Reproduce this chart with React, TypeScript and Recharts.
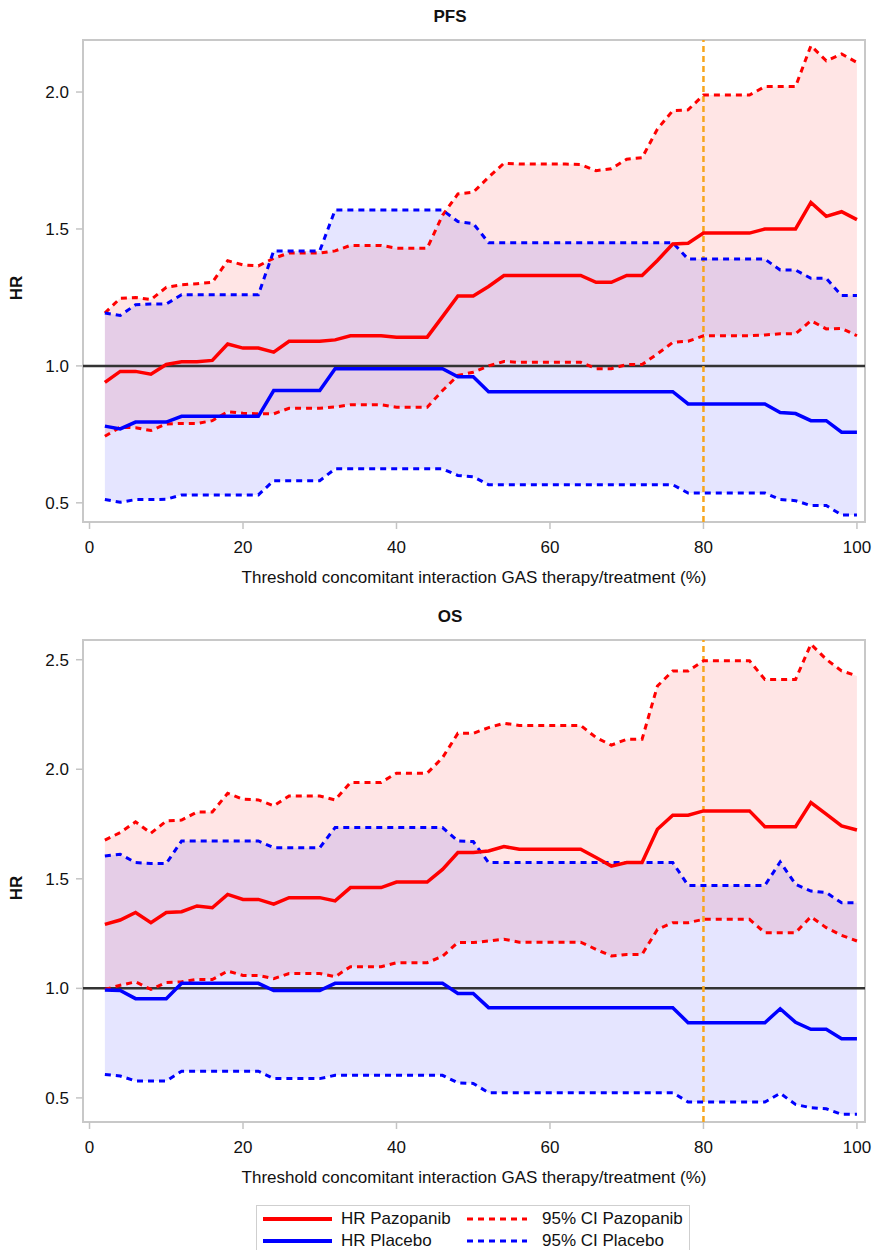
import React from 'react'
import {
  ComposedChart,
  Line,
  Area,
  XAxis,
  YAxis,
  ReferenceLine,
  ReferenceArea,
} from 'recharts'

// thresholds (%)
const thresholds = [
  2, 4, 6, 8, 10, 12, 14, 16, 18, 20, 22, 24, 26, 28, 30, 32, 34, 36, 38, 40,
  42, 44, 46, 48, 50, 52, 54, 56, 58, 60, 62, 64, 66, 68, 70, 72, 74, 76, 78, 80,
  82, 84, 86, 88, 90, 92, 94, 96, 98, 100,
]

const xTicks = [0, 20, 40, 60, 80, 100]
const pfsTicks = [0.5, 1.0, 1.5, 2.0]
const osTicks = [0.5, 1.0, 1.5, 2.0, 2.5]

// PFS
const pfsHrPazo = [
  0.94, 0.98, 0.98, 0.97, 1.005, 1.015, 1.015, 1.02, 1.08, 1.065, 1.065, 1.05,
  1.09, 1.09, 1.09, 1.095, 1.11, 1.11, 1.11, 1.105, 1.105, 1.105, 1.18, 1.255,
  1.255, 1.29, 1.33, 1.33, 1.33, 1.33, 1.33, 1.33, 1.305, 1.305, 1.33, 1.33,
  1.385, 1.445, 1.448, 1.485, 1.485, 1.485, 1.485, 1.5, 1.5, 1.5, 1.597, 1.546,
  1.563, 1.534,
]
const pfsHiPazo = [
  1.193, 1.247, 1.25, 1.242, 1.287, 1.296, 1.3, 1.305, 1.384, 1.369, 1.365,
  1.393, 1.412, 1.412, 1.412, 1.42, 1.44, 1.44, 1.44, 1.43, 1.43, 1.43, 1.55,
  1.628, 1.634, 1.689, 1.74, 1.737, 1.737, 1.737, 1.737, 1.735, 1.713, 1.72,
  1.755, 1.76, 1.865, 1.932, 1.935, 1.989, 1.989, 1.989, 1.989, 2.02, 2.02, 2.02,
  2.169, 2.114, 2.139, 2.108,
]
const pfsLoPazo = [
  0.743, 0.776, 0.774, 0.764, 0.788, 0.79, 0.79, 0.8, 0.833, 0.827, 0.825, 0.825,
  0.845, 0.845, 0.845, 0.85, 0.858, 0.858, 0.858, 0.849, 0.849, 0.849, 0.91,
  0.965, 0.977, 1.0, 1.016, 1.013, 1.013, 1.013, 1.013, 1.013, 0.99, 0.99, 1.005,
  1.005, 1.044, 1.086, 1.09, 1.11, 1.11, 1.11, 1.11, 1.113, 1.117, 1.117, 1.165,
  1.135, 1.137, 1.11,
]
const pfsHrPlac = [
  0.78, 0.77, 0.795, 0.795, 0.795, 0.816, 0.816, 0.816, 0.816, 0.816, 0.816, 0.91,
  0.91, 0.91, 0.91, 0.99, 0.99, 0.99, 0.99, 0.99, 0.99, 0.99, 0.99, 0.96, 0.96,
  0.906, 0.906, 0.906, 0.906, 0.906, 0.906, 0.906, 0.906, 0.906, 0.906, 0.906,
  0.906, 0.906, 0.861, 0.861, 0.861, 0.861, 0.861, 0.861, 0.83, 0.826, 0.8, 0.8,
  0.758, 0.758,
]
const pfsHiPlac = [
  1.193, 1.184, 1.223, 1.226, 1.226, 1.26, 1.26, 1.26, 1.26, 1.26, 1.26, 1.42,
  1.42, 1.42, 1.42, 1.569, 1.569, 1.569, 1.569, 1.569, 1.569, 1.569, 1.569,
  1.527, 1.52, 1.45, 1.45, 1.45, 1.45, 1.45, 1.45, 1.45, 1.45, 1.45, 1.45, 1.45,
  1.45, 1.45, 1.39, 1.39, 1.39, 1.39, 1.39, 1.39, 1.35, 1.35, 1.32, 1.32, 1.257,
  1.257,
]
const pfsLoPlac = [
  0.512, 0.502, 0.512, 0.512, 0.513, 0.529, 0.529, 0.529, 0.529, 0.529, 0.529,
  0.581, 0.581, 0.581, 0.581, 0.624, 0.624, 0.624, 0.624, 0.624, 0.624, 0.624,
  0.624, 0.6, 0.595, 0.566, 0.566, 0.566, 0.566, 0.566, 0.566, 0.566, 0.566,
  0.566, 0.566, 0.566, 0.566, 0.566, 0.536, 0.536, 0.536, 0.536, 0.536, 0.536,
  0.512, 0.508, 0.49, 0.49, 0.456, 0.456,
]

// OS
const osHrPazo = [
  1.292, 1.312, 1.346, 1.3, 1.346, 1.35, 1.376, 1.368, 1.429, 1.406, 1.406, 1.384,
  1.414, 1.414, 1.414, 1.399, 1.46, 1.46, 1.46, 1.485, 1.485, 1.485, 1.543, 1.62,
  1.62, 1.627, 1.647, 1.635, 1.635, 1.635, 1.635, 1.635, 1.597, 1.558, 1.574,
  1.574, 1.726, 1.79, 1.79, 1.81, 1.81, 1.81, 1.81, 1.738, 1.738, 1.738, 1.848,
  1.795, 1.741, 1.723,
]
const osHiPazo = [
  1.677, 1.711, 1.76, 1.708, 1.764, 1.768, 1.805, 1.805, 1.89, 1.863, 1.86, 1.833,
  1.878, 1.878, 1.878, 1.86, 1.939, 1.94, 1.94, 1.982, 1.982, 1.982, 2.053, 2.164,
  2.164, 2.19, 2.21, 2.2, 2.2, 2.2, 2.2, 2.2, 2.145, 2.11, 2.137, 2.137, 2.38,
  2.449, 2.449, 2.495, 2.495, 2.495, 2.495, 2.41, 2.41, 2.41, 2.571, 2.502, 2.449,
  2.426,
]
const osLoPazo = [
  0.995, 1.014, 1.03, 0.995, 1.027, 1.03, 1.041, 1.04, 1.079, 1.059, 1.059, 1.044,
  1.068, 1.068, 1.068, 1.053, 1.099, 1.099, 1.099, 1.117, 1.117, 1.117, 1.147,
  1.209, 1.209, 1.216, 1.224, 1.211, 1.211, 1.211, 1.211, 1.211, 1.178, 1.148,
  1.155, 1.155, 1.269, 1.3, 1.3, 1.315, 1.315, 1.315, 1.315, 1.254, 1.254, 1.254,
  1.327, 1.277, 1.242, 1.216,
]
const osHrPlac = [
  0.992, 0.99, 0.953, 0.953, 0.953, 1.023, 1.023, 1.023, 1.023, 1.023, 1.023,
  0.99, 0.99, 0.99, 0.99, 1.023, 1.023, 1.023, 1.023, 1.023, 1.023, 1.023, 1.023,
  0.977, 0.977, 0.912, 0.912, 0.912, 0.912, 0.912, 0.912, 0.912, 0.912, 0.912,
  0.912, 0.912, 0.912, 0.912, 0.843, 0.843, 0.843, 0.843, 0.843, 0.843, 0.907,
  0.845, 0.813, 0.813, 0.77, 0.77,
]
const osHiPlac = [
  1.604, 1.612, 1.574, 1.57, 1.57, 1.673, 1.673, 1.673, 1.673, 1.673, 1.673,
  1.642, 1.642, 1.642, 1.642, 1.734, 1.734, 1.734, 1.734, 1.734, 1.734, 1.734,
  1.734, 1.673, 1.67, 1.574, 1.574, 1.574, 1.574, 1.574, 1.574, 1.574, 1.574,
  1.574, 1.574, 1.574, 1.574, 1.574, 1.47, 1.47, 1.47, 1.47, 1.47, 1.47, 1.577,
  1.475, 1.444, 1.437, 1.391, 1.391,
]
const osLoPlac = [
  0.607, 0.6, 0.577, 0.577, 0.577, 0.622, 0.622, 0.622, 0.622, 0.622, 0.622,
  0.588, 0.588, 0.588, 0.588, 0.603, 0.603, 0.603, 0.603, 0.603, 0.603, 0.603,
  0.603, 0.569, 0.566, 0.524, 0.524, 0.524, 0.524, 0.524, 0.524, 0.524, 0.524,
  0.524, 0.524, 0.524, 0.524, 0.524, 0.481, 0.481, 0.481, 0.481, 0.481, 0.481,
  0.521, 0.47, 0.455, 0.45, 0.425, 0.425,
]

const FONT = '"Liberation Sans", Arial, Helvetica, sans-serif'
const RED = '#ff0000'
const BLUE = '#0000ff'
const X_DOMAIN: [number, number] = [-0.85, 101.05]

function buildRows(
  hrP: number[], loP: number[], hiP: number[],
  hrB: number[], loB: number[], hiB: number[],
) {
  return thresholds.map((t, i) => ({
    t,
    hrPazo: hrP[i],
    loPazo: loP[i],
    hiPazo: hiP[i],
    bandPazo: [loP[i], hiP[i]],
    hrPlac: hrB[i],
    loPlac: loB[i],
    hiPlac: hiB[i],
    bandPlac: [loB[i], hiB[i]],
  }))
}

const pfsRows = buildRows(pfsHrPazo, pfsLoPazo, pfsHiPazo, pfsHrPlac, pfsLoPlac, pfsHiPlac)
const osRows = buildRows(osHrPazo, osLoPazo, osHiPazo, osHrPlac, osLoPlac, osHiPlac)

type PanelProps = {
  rows: ReturnType<typeof buildRows>
  yDomain: [number, number]
  yTicks: number[]
}

function Panel({ rows, yDomain, yTicks }: PanelProps) {
  const tickStyle = { fontSize: 17, fill: '#111', fontFamily: FONT }
  return (
    <ComposedChart
      width={873}
      height={560}
      data={rows}
      margin={{ top: 40, right: 8, bottom: 8, left: 0 }}
    >
      <XAxis
        dataKey="t"
        type="number"
        domain={X_DOMAIN}
        ticks={xTicks}
        allowDataOverflow
        axisLine={false}
        tickLine={{ stroke: '#c4c4c4', strokeWidth: 1.5 }}
        tickSize={7}
        tickMargin={12}
        height={30}
        tick={tickStyle}
      />
      <YAxis
        type="number"
        domain={yDomain}
        ticks={yTicks}
        allowDataOverflow
        axisLine={false}
        tickLine={{ stroke: '#c4c4c4', strokeWidth: 1.5 }}
        tickSize={7}
        tickMargin={7}
        width={83}
        tick={tickStyle}
        tickFormatter={(v: number) => v.toFixed(1)}
      />
      <ReferenceArea
        x1={X_DOMAIN[0]}
        x2={X_DOMAIN[1]}
        y1={yDomain[0]}
        y2={yDomain[1]}
        fill="none"
        stroke="#c8c8c8"
        strokeWidth={2}
      />
      <Area
        type="linear"
        dataKey="bandPazo"
        stroke="none"
        fill={RED}
        fillOpacity={0.1}
        isAnimationActive={false}
      />
      <Area
        type="linear"
        dataKey="bandPlac"
        stroke="none"
        fill={BLUE}
        fillOpacity={0.1}
        isAnimationActive={false}
      />
      <ReferenceLine y={1} stroke="#333" strokeWidth={2.5} />
      <ReferenceLine x={80} stroke="#f7a51c" strokeWidth={2.5} strokeDasharray="6 4" />
      <Line type="linear" dataKey="hiPazo" stroke={RED} strokeWidth={3} strokeDasharray="6 5" dot={false} isAnimationActive={false} />
      <Line type="linear" dataKey="loPazo" stroke={RED} strokeWidth={3} strokeDasharray="6 5" dot={false} isAnimationActive={false} />
      <Line type="linear" dataKey="hiPlac" stroke={BLUE} strokeWidth={3} strokeDasharray="6 5" dot={false} isAnimationActive={false} />
      <Line type="linear" dataKey="loPlac" stroke={BLUE} strokeWidth={3} strokeDasharray="6 5" dot={false} isAnimationActive={false} />
      <Line type="linear" dataKey="hrPlac" stroke={BLUE} strokeWidth={3.5} dot={false} isAnimationActive={false} />
      <Line type="linear" dataKey="hrPazo" stroke={RED} strokeWidth={3.5} dot={false} isAnimationActive={false} />
    </ComposedChart>
  )
}

const textBase: React.CSSProperties = {
  position: 'absolute',
  fontFamily: FONT,
  fontSize: 17,
  color: '#111',
  lineHeight: '20px',
  whiteSpace: 'nowrap',
}

function Title({ text, top }: { text: string; top: number }) {
  return (
    <div style={{ ...textBase, top, left: 0, width: 900, textAlign: 'center', fontWeight: 'bold' }}>
      {text}
    </div>
  )
}

function HrLabel({ top }: { top: number }) {
  return (
    <div
      style={{
        ...textBase,
        top,
        left: 17,
        fontWeight: 'bold',
        transform: 'translate(-50%, -50%) rotate(-90deg)',
      }}
    >
      HR
    </div>
  )
}

function XLabel({ top }: { top: number }) {
  return (
    <div style={{ ...textBase, top, left: 83, width: 782, textAlign: 'center' }}>
      Threshold concomitant interaction GAS therapy/treatment (%)
    </div>
  )
}

const legendItems = [
  { label: 'HR Pazopanib', color: RED, dash: undefined as string | undefined },
  { label: '95% CI Pazopanib', color: RED, dash: '6 5' },
  { label: 'HR Placebo', color: BLUE, dash: undefined as string | undefined },
  { label: '95% CI Placebo', color: BLUE, dash: '6 5' },
]

function LegendBox() {
  return (
    <div
      style={{
        position: 'absolute',
        left: 256,
        top: 1205,
        width: 434,
        height: 60,
        border: '1.5px solid #cfcfcf',
        boxSizing: 'border-box',
      }}
    >
      {legendItems.map((it, i) => {
        const col = i % 2
        const row = Math.floor(i / 2)
        const x = col === 0 ? 6 : 210
        const lineW = col === 0 ? 69 : 60
        const textX = col === 0 ? 84 : 285
        const y = row === 0 ? 13 : 35
        return (
          <React.Fragment key={it.label}>
            <svg
              width={lineW}
              height={6}
              style={{ position: 'absolute', left: x, top: y - 3 }}
            >
              <line
                x1={0}
                y1={3}
                x2={lineW}
                y2={3}
                stroke={it.color}
                strokeWidth={it.dash ? 3 : 4}
                strokeDasharray={it.dash}
              />
            </svg>
            <div style={{ ...textBase, left: textX, top: y - 10 }}>{it.label}</div>
          </React.Fragment>
        )
      })}
    </div>
  )
}

export default function App() {
  return (
    <div
      style={{
        position: 'absolute',
        left: 0,
        top: 0,
        width: 873,
        height: 1250,
        background: '#fff',
        overflow: 'hidden',
      }}
    >
      <div style={{ position: 'absolute', left: 0, top: 0 }}>
        <Panel rows={pfsRows} yDomain={[0.43, 2.19]} yTicks={pfsTicks} />
      </div>
      <div style={{ position: 'absolute', left: 0, top: 600 }}>
        <Panel rows={osRows} yDomain={[0.39, 2.59]} yTicks={osTicks} />
      </div>
      <Title text="PFS" top={7} />
      <Title text="OS" top={607} />
      <HrLabel top={288} />
      <HrLabel top={888} />
      <XLabel top={568} />
      <XLabel top={1168} />
      <LegendBox />
    </div>
  )
}
